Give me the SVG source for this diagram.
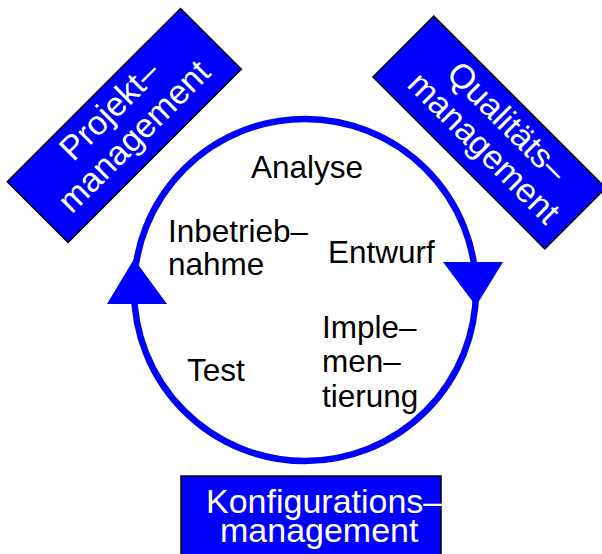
<svg xmlns="http://www.w3.org/2000/svg" width="602" height="554" viewBox="0 0 602 554">
<style>
.box{fill:#0000ff;stroke:#000;stroke-width:1.5}
.wt{fill:#fff;font-family:"Liberation Sans",Arial,sans-serif;font-size:34px}
.bt{fill:#000;font-family:"Liberation Sans",Arial,sans-serif;font-size:31.5px}
.cyc{fill:none;stroke:#0000ff;stroke-width:6.5}
.ah{fill:#0000ff}
</style>
<rect width="602" height="554" fill="#fff"/>
<g id="connectors">
<circle class="cyc" cx="305" cy="290" r="171"/>
<polygon class="ah" points="134,259 107,304 167,304"/>
<polygon class="ah" points="443,262 503,262 476,306"/>
</g>
<g id="projektmanagement" transform="translate(124.3,125.5) rotate(-45)">
<rect class="box" x="-122.5" y="-43" width="245" height="86"/>
<text class="wt" x="0" y="-10" text-anchor="middle">Projekt–</text>
<text class="wt" x="-1" y="26" text-anchor="middle">management</text>
</g>
<g id="qualitaetsmanagement" transform="translate(489.3,132.5) rotate(45)">
<rect class="box" x="-121.5" y="-43" width="243" height="86"/>
<text class="wt" x="5" y="-9" text-anchor="middle">Qualitäts–</text>
<text class="wt" x="7" y="26" text-anchor="middle">management</text>
</g>
<g id="konfigurationsmanagement">
<rect class="box" x="181" y="476" width="260" height="90"/>
<text class="wt" x="206" y="513">Konfigurations–</text>
<text class="wt" x="220" y="542">management</text>
</g>
<g id="analyse"><text class="bt" x="251" y="178">Analyse</text></g>
<g id="entwurf"><text class="bt" x="328" y="263">Entwurf</text></g>
<g id="implementierung">
<text class="bt" x="322" y="338">Imple–</text>
<text class="bt" x="322" y="372">men–</text>
<text class="bt" x="322" y="407">tierung</text>
</g>
<g id="test"><text class="bt" x="187" y="381">Test</text></g>
<g id="inbetriebnahme">
<text class="bt" x="168" y="242">Inbetrieb–</text>
<text class="bt" x="168" y="275">nahme</text>
</g>
</svg>
